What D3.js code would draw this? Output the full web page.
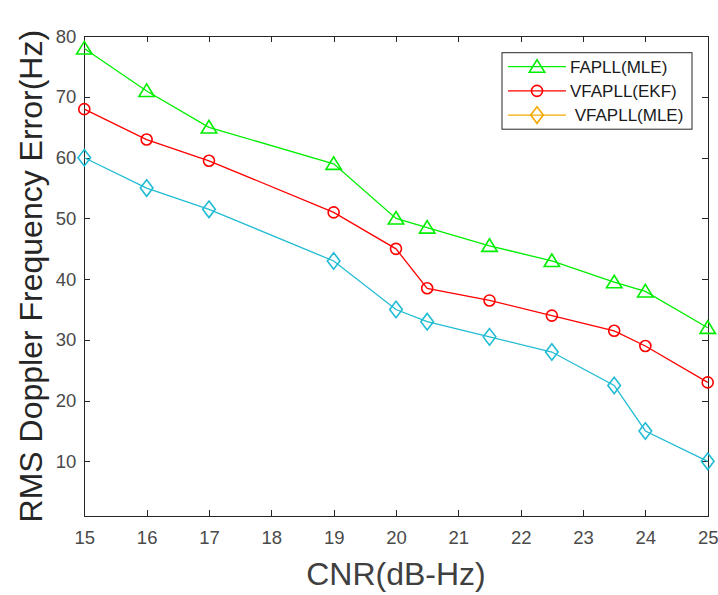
<!DOCTYPE html>
<html>
<head>
<meta charset="utf-8">
<script src="https://cdnjs.cloudflare.com/ajax/libs/d3/7.8.5/d3.min.js"></script>
<style>
  body { margin: 0; background: #fff; }
  svg { display: block; font-family: Arial, "Liberation Sans", Helvetica, sans-serif; }
  .axis path, .axis line { stroke: #262626; stroke-width: 1; shape-rendering: crispEdges; }
  .axis text { fill: #4a4a4a; font-size: 18.5px; }
</style>
</head>
<body>
<div id="chart"></div>
<script>
// data
var cnr = [15, 16, 17, 19, 20, 20.5, 21.5, 22.5, 23.5, 24, 25];
var fapllMle  = [78, 71, 65, 59, 50, 48.5, 45.5, 43, 39.5, 38, 32];
var vfapllEkf = [68, 63, 59.5, 51, 45, 38.5, 36.5, 34, 31.5, 29, 23];
var vfapllMle = [60, 55, 51.5, 43, 35, 33, 30.5, 28, 22.5, 15, 10];
var xTicks = [15, 16, 17, 18, 19, 20, 21, 22, 23, 24, 25];
var yTicks = [10, 20, 30, 40, 50, 60, 70, 80];
var seriesNames = ["FAPLL(MLE)", "VFAPLL(EKF)", " VFAPLL(MLE)"];

var w = 718, h = 595;
var padL = 84.3, padR = 707.7, padT = 36.3, padB = 516;

var svg = d3.select("#chart").append("svg")
    .attr("width", w)
    .attr("height", h);

var xScale = d3.scaleLinear()
    .domain([15, 25])
    .range([padL, padR]);

var yScale = d3.scaleLinear()
    .domain([1, 80])
    .range([padB, padT]);

//AXES, ticks point inward like matlab
svg.append("g")
    .attr("class", "axis")
    .attr("transform", "translate(0," + padB + ")")
    .call(d3.axisBottom(xScale).tickValues(xTicks).tickSize(-6).tickPadding(15).tickFormat(d3.format("d")));

svg.append("g")
    .attr("class", "axis")
    .attr("transform", "translate(" + padL + ",0)")
    .call(d3.axisLeft(yScale).tickValues(yTicks).tickSize(-6).tickPadding(8).tickFormat(d3.format("d")));

svg.append("g")
    .attr("class", "axis")
    .attr("transform", "translate(0," + padT + ")")
    .call(d3.axisTop(xScale).tickValues(xTicks).tickSize(-6).tickFormat(""));

svg.append("g")
    .attr("class", "axis")
    .attr("transform", "translate(" + padR + ",0)")
    .call(d3.axisRight(yScale).tickValues(yTicks).tickSize(-6).tickFormat(""));

svg.selectAll(".axis .domain").attr("stroke-width", 1.3);

//AXIS TITLES
svg.append("text")
    .attr("x", (padL + padR) / 2)
    .attr("y", 585)
    .attr("text-anchor", "middle")
    .attr("fill", "#404040")
    .style("font-size", "32px")
    .text("CNR(dB-Hz)");

svg.append("text")
    .attr("transform", "translate(42," + (padT + padB) / 2 + ") rotate(-90)")
    .attr("text-anchor", "middle")
    .attr("fill", "#262626")
    .style("font-size", "32px")
    .text("RMS Doppler Frequency Error(Hz)");

//MARKERS
var triangle = function (s) {
    return "M0," + (-s * 0.5) + "L" + (s * 0.55) + "," + (s * 0.4) + "L" + (-s * 0.55) + "," + (s * 0.4) + "Z";
};
var circle = function (s) {
    return d3.arc()({ innerRadius: 0, outerRadius: s / 2, startAngle: 0, endAngle: 2 * Math.PI });
};
var diamond = function (s) {
    return "M0," + (-s * 0.55) + "L" + (s * 0.42) + ",0L0," + (s * 0.55) + "L" + (-s * 0.42) + ",0Z";
};

var series = [
    { vals: fapllMle, color: "#00ee00", legendColor: "#00ee00", shape: triangle, size: 14 },
    { vals: vfapllEkf, color: "#ff0000", legendColor: "#ff0000", shape: circle, size: 11 },
    { vals: vfapllMle, color: "#20bcd4", legendColor: "#f5a900", shape: diamond, size: 15 }
];

var lineGenerator = d3.line()
    .x(function (d) { return xScale(d[0]); })
    .y(function (d) { return yScale(d[1]); });

series.forEach(function (s) {
    var pts = cnr.map(function (c, i) { return [c, s.vals[i]]; });
    svg.append("path")
        .attr("d", lineGenerator(pts))
        .attr("fill", "none")
        .attr("stroke", s.color)
        .attr("stroke-width", 1.3);
    svg.selectAll(null)
        .data(pts)
        .enter().append("path")
        .attr("transform", function (d) { return "translate(" + xScale(d[0]) + "," + yScale(d[1]) + ")"; })
        .attr("d", s.shape(s.size))
        .attr("fill", "none")
        .attr("stroke", s.color)
        .attr("stroke-width", 1.6);
});

//LEGEND
var lg = svg.append("g").attr("transform", "translate(502,52.7)");
lg.append("rect")
    .attr("width", 190)
    .attr("height", 76.5)
    .attr("fill", "#fff")
    .attr("stroke", "#262626")
    .attr("stroke-width", 1);

series.forEach(function (s, i) {
    var yy = 14 + i * 24.2;
    lg.append("line")
        .attr("x1", 6).attr("x2", 64)
        .attr("y1", yy).attr("y2", yy)
        .attr("stroke", s.legendColor)
        .attr("stroke-width", 1.3);
    lg.append("path")
        .attr("transform", "translate(35," + yy + ")")
        .attr("d", s.shape(s.size))
        .attr("fill", "none")
        .attr("stroke", s.legendColor)
        .attr("stroke-width", 1.6);
    lg.append("text")
        .attr("x", 68)
        .attr("y", yy + 6)
        .attr("fill", "#1a1a1a")
        .style("font-size", "17px")
        .style("white-space", "pre")
        .attr("xml:space", "preserve")
        .text(seriesNames[i]);
});
</script>
</body>
</html>
